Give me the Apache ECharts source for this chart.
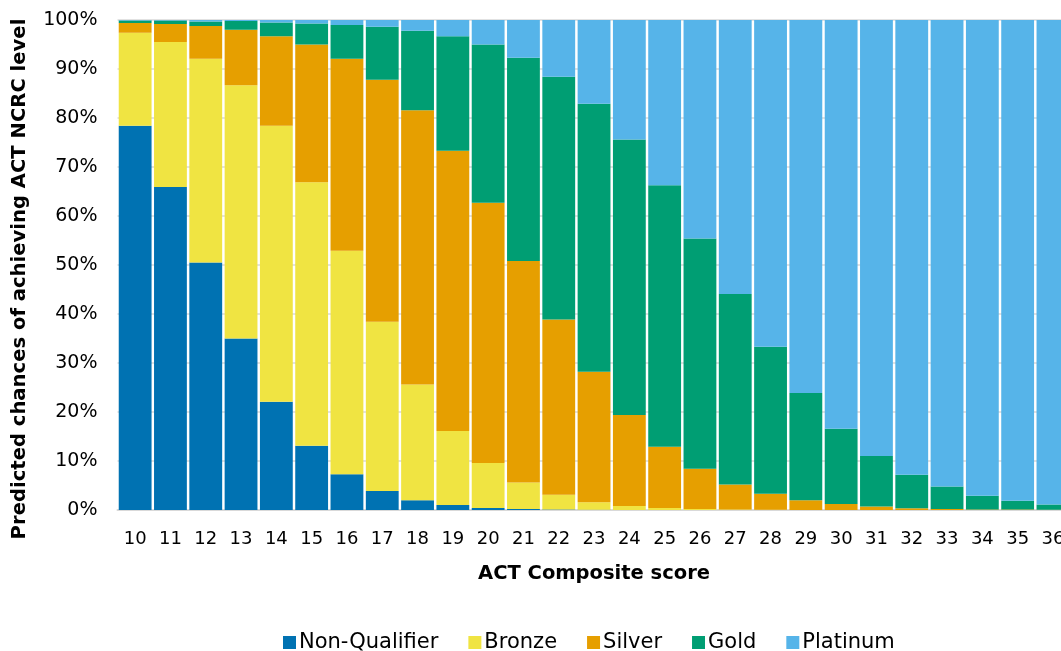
<!DOCTYPE html>
<html>
<head>
<meta charset="utf-8">
<script src="https://cdn.jsdelivr.net/npm/echarts@6/dist/echarts.min.js"></script>
<style>
html,body{margin:0;padding:0;background:#fff;}
#chart{width:1061px;height:651px;}
</style>
</head>
<body>
<div id="chart"></div>
<script>
const categories = ['10','11','12','13','14','15','16','17','18','19','20','21','22','23','24','25','26','27','28','29','30','31','32','33','34','35','36'];
const nonQualifier = [78.4,65.9,50.5,35.0,22.1,13.1,7.3,3.9,2.0,1.0,0.4,0.2,0.1,0.05,0,0,0,0,0,0,0,0,0,0,0,0,0];
const bronze = [19.0,29.6,41.6,51.7,56.3,53.8,45.6,34.5,23.6,15.1,9.2,5.4,3.0,1.55,0.8,0.4,0.2,0.1,0.05,0,0,0,0,0,0,0,0];
const silver = [2.0,3.7,6.7,11.3,18.3,28.1,39.2,49.4,56.0,57.2,53.1,45.2,35.8,26.6,18.6,12.5,8.2,5.1,3.25,2.0,1.2,0.7,0.35,0.2,0.1,0.1,0.05];
const gold = [0.5,0.7,0.9,1.8,2.8,4.3,6.9,10.8,16.2,23.4,32.3,41.5,49.5,54.7,56.2,53.4,47.0,38.9,30.0,21.9,15.4,10.3,6.85,4.6,2.8,1.8,1.05];
const platinum = [0.1,0.1,0.3,0.2,0.5,0.7,1.0,1.4,2.2,3.3,5.0,7.7,11.6,17.1,24.4,33.7,44.6,55.9,66.7,76.1,83.4,89.0,92.8,95.2,97.1,98.1,98.9];
const yTicks = [0,10,20,30,40,50,60,70,80,90,100];

const FONT = 'DejaVu Sans';
const names = ['Non-Qualifier','Bronze','Silver','Gold','Platinum'];
const colors = ['#0072B2','#F0E442','#E69F00','#009E73','#56B4E9'];
const datas = [nonQualifier, bronze, silver, gold, platinum];

const chart = echarts.init(document.getElementById('chart'));
chart.setOption({
  animation: false,
  textStyle: {fontFamily: FONT},
  grid: {left: 117.5, right: -9.6, top: 20, bottom: 141, containLabel: false, outerBoundsMode: 'none'},
  legend: {
    data: names,
    top: 627,
    left: 278,
    itemWidth: 13, itemHeight: 13, itemGap: 30,
    icon: 'rect',
    textStyle: {fontFamily: FONT, fontSize: 21, color: '#000', padding: [0,0,0,-2]}
  },
  xAxis: {
    type: 'category',
    data: categories,
    name: 'ACT Composite score',
    nameLocation: 'middle',
    nameGap: 54,
    nameTextStyle: {fontFamily: FONT, fontSize: 19.5, fontWeight: 'bold', color: '#000'},
    axisLine: {lineStyle: {color: '#d9d9d9', width: 2}},
    axisTick: {show: false},
    axisLabel: {fontFamily: FONT, fontSize: 18, color: '#000', margin: 20}
  },
  yAxis: {
    type: 'value',
    min: 0, max: 100, interval: 10,
    name: 'Predicted chances of achieving ACT NCRC level',
    nameLocation: 'middle',
    nameGap: 88,
    nameTextStyle: {fontFamily: FONT, fontSize: 19.6, fontWeight: 'bold', color: '#000', padding: [0, 28, 0, 0]},
    axisLine: {show: false},
    axisTick: {show: false},
    axisLabel: {fontFamily: FONT, fontSize: 19, color: '#000', margin: 20,
      formatter: v => yTicks.includes(v) ? v + '%' : ''},
    splitLine: {lineStyle: {color: '#d9d9d9', width: 1.5}}
  },
  series: datas.map((d, i) => ({
    name: names[i],
    type: 'bar',
    stack: 'total',
    data: d,
    barCategoryGap: '7%',
    itemStyle: {color: colors[i]},
    emphasis: {disabled: true}
  }))
});
</script>
</body>
</html>
